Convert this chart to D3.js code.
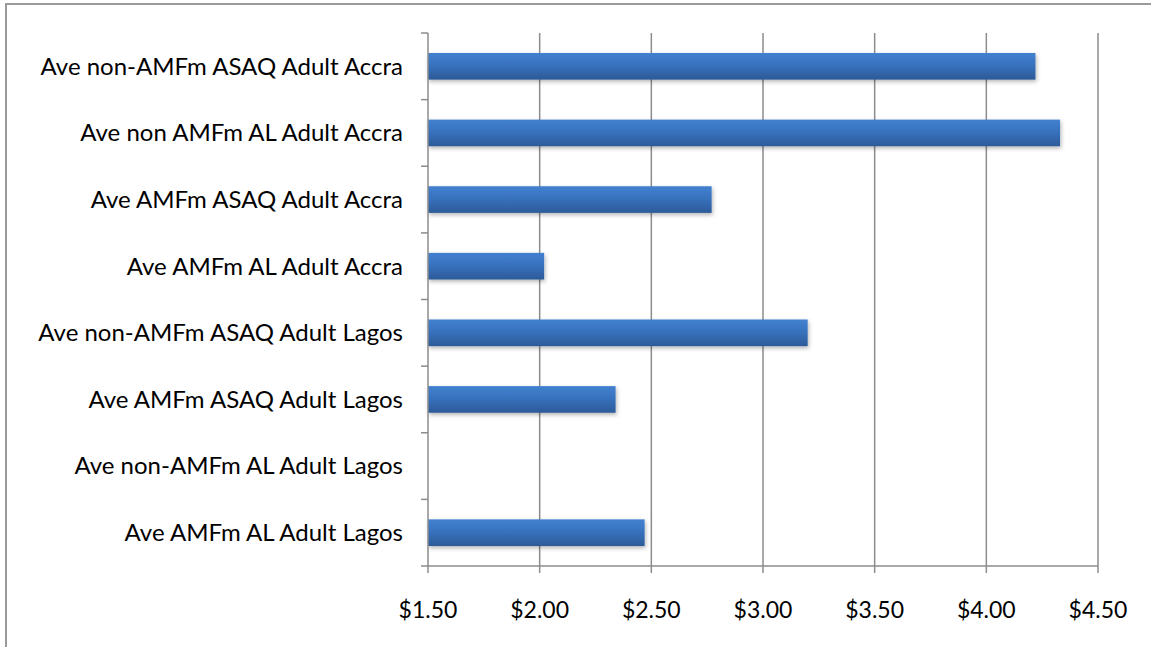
<!DOCTYPE html>
<html>
<head>
<meta charset="utf-8">
<script src="https://cdn.jsdelivr.net/npm/d3@7"></script>
<style>
  html, body { margin: 0; padding: 0; background: #fff; }
  svg { display: block; }
  text { font-family: Lato, "Open Sans", sans-serif; fill: #000; }
</style>
</head>
<body>
<svg id="chart" width="1151" height="647"></svg>
<script>
// categories, top to bottom
var categories = [
  'Ave non-AMFm ASAQ Adult Accra',
  'Ave non AMFm AL Adult Accra',
  'Ave AMFm ASAQ Adult Accra',
  'Ave AMFm AL Adult Accra',
  'Ave non-AMFm ASAQ Adult Lagos',
  'Ave AMFm ASAQ Adult Lagos',
  'Ave non-AMFm AL Adult Lagos',
  'Ave AMFm AL Adult Lagos'
];

// average price (USD)
var prices = [4.22, 4.33, 2.77, 2.02, 3.20, 2.34, 1.50, 2.47];

var tickValues = [1.5, 2.0, 2.5, 3.0, 3.5, 4.0, 4.5];

var svg = d3.select('#chart');

var margin = {left: 428, right: 53, top: 33, bottom: 81};
var width = 1151 - margin.left - margin.right;
var height = 647 - margin.top - margin.bottom;

// outer frame (runs off the right and bottom edges)
svg.append('rect')
  .attr('x', 6).attr('y', 4)
  .attr('width', 1160).attr('height', 660)
  .attr('fill', 'none')
  .attr('stroke', '#9a9a9a')
  .attr('stroke-width', 2);

var defs = svg.append('defs');
var grad = defs.append('linearGradient')
  .attr('id', 'barFill')
  .attr('x1', 0).attr('y1', 0).attr('x2', 0).attr('y2', 1);
grad.append('stop').attr('offset', '0%').attr('stop-color', '#4281d0');
grad.append('stop').attr('offset', '45%').attr('stop-color', '#3872be');
grad.append('stop').attr('offset', '100%').attr('stop-color', '#2c5a98');

var shadow = defs.append('filter').attr('id', 'shadow')
  .attr('x', '-5%').attr('y', '-30%').attr('width', '110%').attr('height', '170%');
shadow.append('feDropShadow')
  .attr('dx', 1).attr('dy', 2).attr('stdDeviation', 2)
  .attr('flood-color', '#000').attr('flood-opacity', 0.3);

var g = svg.append('g').attr('transform', 'translate(' + margin.left + ',' + margin.top + ')');

var x = d3.scaleLinear().domain([1.5, 4.5]).range([0, width]);
var y = d3.scaleBand().domain(categories).range([0, height]).paddingInner(0.6).paddingOuter(0.3);
var yEdge = d3.scaleLinear().domain([0, categories.length]).range([0, height]);

// vertical gridlines
g.append('g')
  .selectAll('line')
  .data(tickValues.slice(1))
  .enter().append('line')
  .attr('x1', function (d) { return x(d); })
  .attr('x2', function (d) { return x(d); })
  .attr('y1', 0)
  .attr('y2', height)
  .attr('stroke', '#8c8c8c')
  .attr('stroke-width', 1.5);

// bars
g.append('g')
  .selectAll('rect')
  .data(prices)
  .enter().append('rect')
  .attr('x', x(1.5))
  .attr('y', function (d, i) { return y(categories[i]); })
  .attr('width', function (d) { return x(d) - x(1.5); })
  .attr('height', y.bandwidth())
  .attr('fill', 'url(#barFill)')
  .attr('filter', 'url(#shadow)');

// y axis line and tick marks between categories
g.append('line')
  .attr('x1', 0).attr('x2', 0)
  .attr('y1', 0).attr('y2', height)
  .attr('stroke', '#8c8c8c').attr('stroke-width', 1.5);

g.append('g')
  .selectAll('line')
  .data(d3.range(categories.length + 1))
  .enter().append('line')
  .attr('x1', -7).attr('x2', 0)
  .attr('y1', function (d) { return yEdge(d); })
  .attr('y2', function (d) { return yEdge(d); })
  .attr('stroke', '#8c8c8c').attr('stroke-width', 1.5);

// category labels
g.append('g')
  .selectAll('text')
  .data(categories)
  .enter().append('text')
  .attr('x', -25)
  .attr('y', function (d) { return y(d) + y.bandwidth() / 2; })
  .attr('dy', '0.35em')
  .attr('text-anchor', 'end')
  .style('font-size', '24px')
  .text(function (d) { return d; });

// x axis
g.append('line')
  .attr('x1', 0).attr('x2', width)
  .attr('y1', height).attr('y2', height)
  .attr('stroke', '#8c8c8c').attr('stroke-width', 1.5);

g.append('g')
  .selectAll('line')
  .data(tickValues)
  .enter().append('line')
  .attr('x1', function (d) { return x(d); })
  .attr('x2', function (d) { return x(d); })
  .attr('y1', height).attr('y2', height + 7)
  .attr('stroke', '#8c8c8c').attr('stroke-width', 1.5);

var fmt = d3.format('$.2f');
g.append('g')
  .selectAll('text')
  .data(tickValues)
  .enter().append('text')
  .attr('x', function (d) { return x(d); })
  .attr('y', height + 52)
  .attr('text-anchor', 'middle')
  .style('font-size', '23px')
  .text(function (d) { return fmt(d); });
</script>
</body>
</html>
